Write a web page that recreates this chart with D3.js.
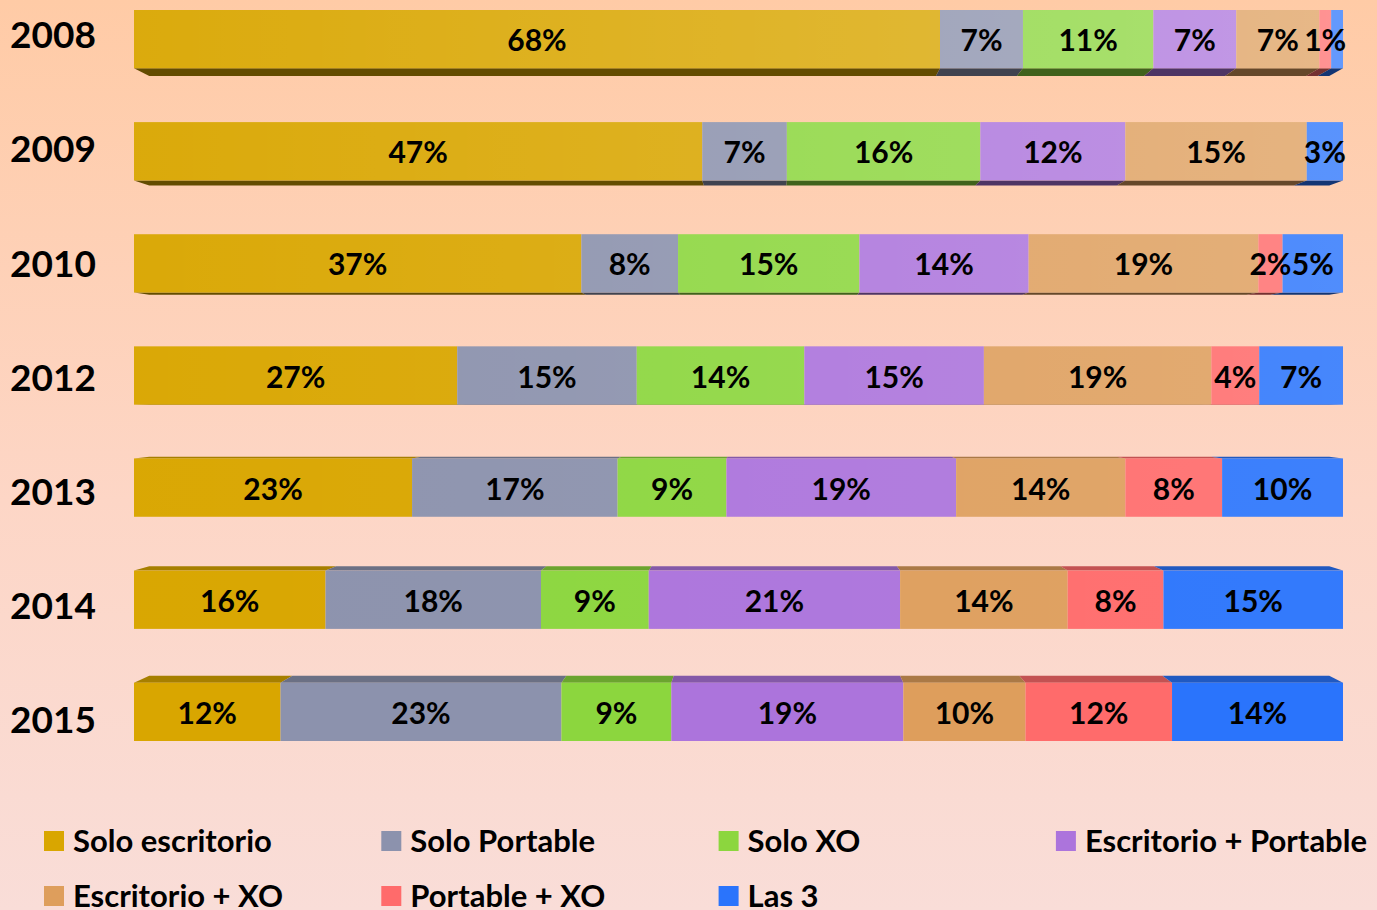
<!DOCTYPE html>
<html>
<head>
<meta charset="utf-8">
<script src="https://cdn.jsdelivr.net/npm/d3@7"></script>
<style>
  html, body { margin: 0; padding: 0; }
  body { width: 1377px; height: 910px; overflow: hidden; }
  text { font-family: Lato, "Open Sans", sans-serif; font-weight: bold; }
</style>
</head>
<body>
<div class="chart"></div>
<script>
var width = 1377;
var height = 910;

// data
var years = ["2008", "2009", "2010", "2012", "2013", "2014", "2015"];
var series = ["Solo escritorio", "Solo Portable", "Solo XO", "Escritorio + Portable", "Escritorio + XO", "Portable + XO", "Las 3"];
var soloEscritorio     = [68, 47, 37, 27, 23, 16, 12];
var soloPortable       = [7, 7, 8, 15, 17, 18, 23];
var soloXO             = [11, 16, 15, 14, 9, 9, 9];
var escritorioPortable = [7, 12, 14, 15, 19, 21, 19];
var escritorioXO       = [7, 15, 19, 19, 14, 14, 10];
var portableXO         = [1, 0, 2, 4, 8, 8, 12];
var las3               = [1, 3, 5, 7, 10, 15, 14];
var colors = ["#D9A600", "#8C92AD", "#8CD63E", "#AC74DC", "#DE9E5C", "#FF6B6B", "#2A74FC"];
// label not drawn in the picture (hidden behind its neighbour)
var hiddenLabels = [["2008", "Las 3"]];

var values = [soloEscritorio, soloPortable, soloXO, escritorioPortable, escritorioXO, portableXO, las3];

var rows = years.map(function(y, i) {
  var r = { year: y };
  series.forEach(function(s, j) { r[s] = values[j][i]; });
  return r;
});
var stacked = d3.stack().keys(series).offset(d3.stackOffsetExpand)(rows);

var svg = d3.select(".chart").append("svg")
    .attr("width", width)
    .attr("height", height);

var defs = svg.append("defs");
var bg = defs.append("linearGradient")
    .attr("id", "bg")
    .attr("x1", 0).attr("y1", 0).attr("x2", 0).attr("y2", 1);
bg.append("stop").attr("offset", "0%").attr("stop-color", "#FFCBA6");
bg.append("stop").attr("offset", "55%").attr("stop-color", "#FDD6C6");
bg.append("stop").attr("offset", "100%").attr("stop-color", "#F9DDD8");

svg.append("rect")
    .attr("width", width)
    .attr("height", height)
    .attr("fill", "url(#bg)");

var x = d3.scaleLinear().domain([0, 1]).range([134, 1343]);
var y = d3.scaleBand().domain(years).range([10, 741]).paddingInner(0.48);
var yLabel = d3.scalePoint().domain(years).range([35, 720]);
var color = d3.scaleOrdinal().domain(series).range(colors);

// simple perspective: the back face is pulled toward a vanishing point
var vpx = 770, vpy = 390, shrink = 0.024;
function back(px, py) {
  return [px + (vpx - px) * shrink, py + (vpy - py) * shrink];
}

// light overlay per row, stronger at the top and on the right
years.forEach(function(yr, i) {
  var k = (years.length - 1 - i) / (years.length - 1);
  var g = defs.append("linearGradient")
      .attr("id", "light" + i)
      .attr("gradientUnits", "userSpaceOnUse")
      .attr("x1", x(0)).attr("x2", x(1)).attr("y1", 0).attr("y2", 0);
  g.append("stop").attr("offset", "0%").attr("stop-color", "#fff").attr("stop-opacity", 0.05 * k);
  g.append("stop").attr("offset", "100%").attr("stop-color", "#fff").attr("stop-opacity", 0.27 * k);
});

var bars = svg.append("g");

stacked.forEach(function(layer) {
  layer.forEach(function(d) {
    var yr = d.data.year;
    var x0 = x(d[0]), x1 = x(d[1]);
    if (x1 - x0 < 0.01) return;
    var top = y(yr), bot = y(yr) + y.bandwidth();
    var c = color(layer.key);
    var face;
    if (top + y.bandwidth() / 2 < vpy) {
      // bottom face visible
      var a = back(x0, bot), b = back(x1, bot);
      face = [[x0, bot], [x1, bot], b, a];
      bars.append("path")
          .attr("d", "M" + face.join("L") + "Z")
          .attr("fill", d3.color(c).darker(2.2));
    } else {
      var a2 = back(x0, top), b2 = back(x1, top);
      face = [[x0, top], [x1, top], b2, a2];
      bars.append("path")
          .attr("d", "M" + face.join("L") + "Z")
          .attr("fill", d3.color(c).darker(0.75));
    }
  });
});

stacked.forEach(function(layer) {
  bars.selectAll(null)
    .data(layer)
    .enter().append("rect")
      .attr("x", function(d) { return x(d[0]); })
      .attr("y", function(d) { return y(d.data.year); })
      .attr("width", function(d) { return x(d[1]) - x(d[0]); })
      .attr("height", y.bandwidth())
      .attr("fill", color(layer.key));
});

years.forEach(function(yr, i) {
  bars.append("rect")
      .attr("x", x(0))
      .attr("y", y(yr))
      .attr("width", x(1) - x(0))
      .attr("height", y.bandwidth())
      .attr("fill", "url(#light" + i + ")");
});

function isHidden(yr, key) {
  return hiddenLabels.some(function(h) { return h[0] === yr && h[1] === key; });
}

stacked.forEach(function(layer) {
  svg.append("g").selectAll("text")
    .data(layer.filter(function(d) { return d.data[layer.key] > 0 && !isHidden(d.data.year, layer.key); }))
    .enter().append("text")
      .attr("x", function(d) { return (x(d[0]) + x(d[1])) / 2; })
      .attr("y", function(d) { return y(d.data.year) + y.bandwidth() / 2; })
      .attr("dy", "0.4em")
      .attr("text-anchor", "middle")
      .attr("font-size", 30)
      .attr("fill", "#000")
      .text(function(d) { return d.data[layer.key] + "%"; });
});

svg.append("g").selectAll("text")
  .data(years)
  .enter().append("text")
    .attr("x", 10)
    .attr("y", function(d) { return yLabel(d); })
    .attr("dy", "0.36em")
    .attr("font-size", 37)
    .attr("fill", "#000")
    .text(function(d) { return d; });

// legend
var legend = svg.append("g");
var item = legend.selectAll("g")
  .data(series)
  .enter().append("g")
    .attr("transform", function(d, i) {
      return "translate(" + (44 + (i % 4) * 337.3) + "," + (841 + Math.floor(i / 4) * 55) + ")";
    });
item.append("rect")
    .attr("x", 0).attr("y", -10)
    .attr("width", 20).attr("height", 20)
    .attr("fill", function(d) { return color(d); });
item.append("text")
    .attr("x", 29)
    .attr("dy", "0.36em")
    .attr("font-size", 31)
    .attr("fill", "#000")
    .text(function(d) { return d; });
</script>
</body>
</html>
